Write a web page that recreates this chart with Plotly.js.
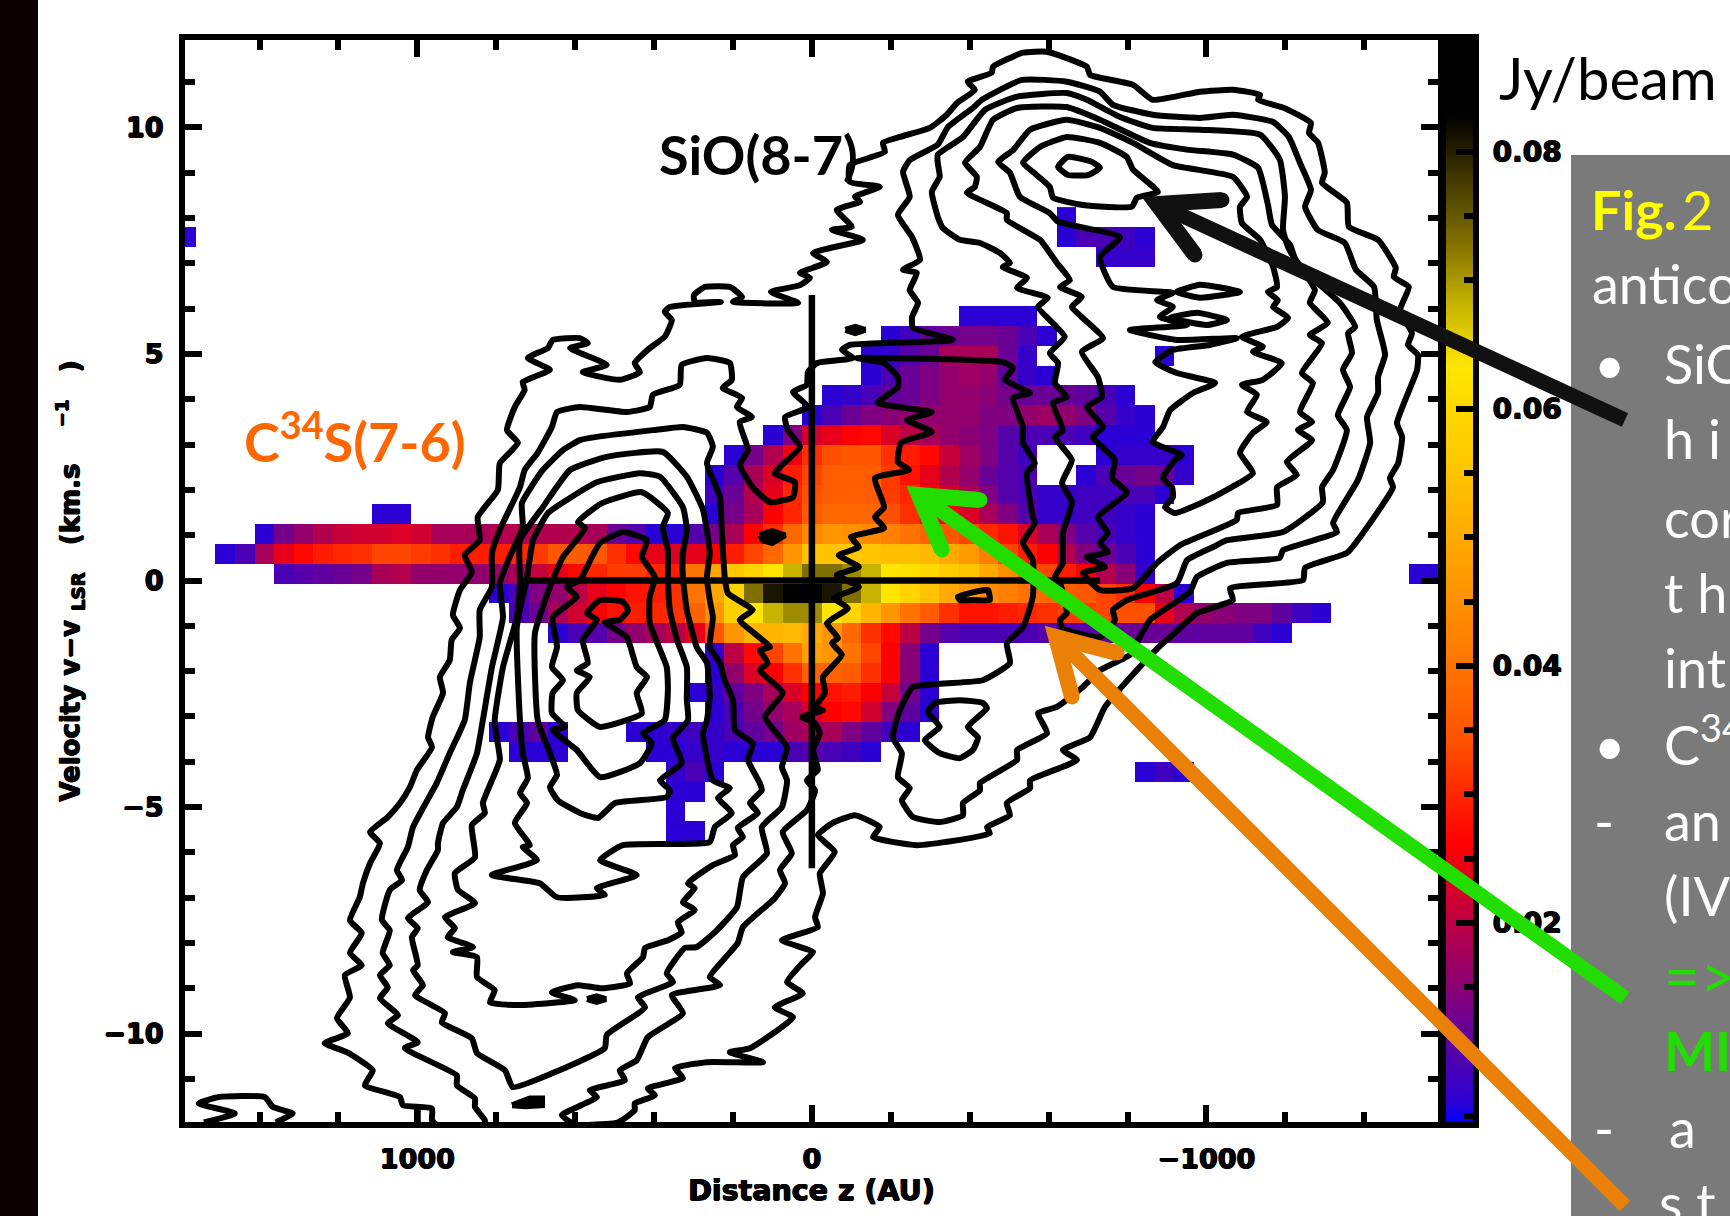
<!DOCTYPE html>
<html><head><meta charset="utf-8">
<script src="https://cdn.plot.ly/plotly-3.0.1.min.js"></script>
<style>html,body{margin:0;padding:0;background:#fff;overflow:hidden}#g{width:1730px;height:1216px}</style>
</head><body><div id="g"></div>
<script>
// ---- C34S(7-6) intensity (Jy/beam), channel rows by velocity, [first column, values] ----
const rowM13=[[23,[.006,.006]]];
const rowM12=[[23,[.006]]];
const rowM11=[[23,[.006,.006]]];
const rowM10=[[23,[.007,.009,.006]],[47,[.006,.008,.006]]];
const rowM9=[[15,[.006,.006,.006]],[22,[.006,.006,.007,.007,.006,.006,.006,.009,.010,.009,.008,.006]]];
const rowM8=[[14,[.006,.009,.011,.006]],[21,[.006,.006,.007,.008,.007,.009,.011,.013,.017,.018,.018,.014,.011,.008,.006]]];
const rowM7=[[25,[.006,.009,.013,.016,.018,.022,.026,.027,.022,.014,.011,.006]]];
const rowM6=[[24,[.006,.007,.011,.014,.018,.023,.026,.028,.029,.026,.021,.013,.006]]];
const rowM5=[[25,[.006,.016,.023,.026,.031,.037,.037,.036,.031,.026,.015,.006]]];
const rowM4=[[25,[.007,.020,.027,.033,.040,.048,.046,.040,.033,.026,.015,.006]]];
const rowM3=[[17,[.006,.009,.010,.013,.016,.018,.020,.024,.035,.046,.052,.052,.053,.050,.046,.038,.031,.027,.020,.013,.010,.009,.009,.009,.009,.010,.010,.010,.011,.012,.012,.012,.011,.011,.011,.011,.008,.006]]];
const rowM2=[[15,[.009,.012,.018,.022,.026,.028,.029,.030,.031,.037,.046,.058,.063,.068,.071,.071,.063,.059,.052,.046,.040,.036,.031,.028,.028,.029,.030,.031,.032,.032,.033,.034,.034,.024,.019,.016,.015,.014,.014,.011,.008,.006]]];
const rowM1=[[14,[.006,.009,.014,.016,.020,.024,.026,.028,.029,.031,.040,.049,.059,.073,.081,.086,.086,.081,.073,.068,.063,.059,.055,.050,.047,.044,.042,.040,.038,.036,.035,.033,.031,.026,.020,.006]]];
const rowP0=[[3,[.009,.010,.011,.012,.013,.018,.019,.016,.016,.016,.016,.017,.018,.021,.024,.027,.030,.032,.032,.030,.029,.040,.049,.056,.059,.063,.068,.073,.073,.071,.068,.063,.062,.060,.057,.055,.050,.045,.037,.033,.029,.026,.019,.015,.007]],[61,[.006,.006]]];
const rowP1=[[0,[.006,.009,.018,.024,.027,.029,.030,.031,.033,.033,.032,.031,.029,.029,.029,.030,.032,.035,.036,.035,.031,.027,.024,.023,.024,.026,.029,.033,.038,.046,.055,.055,.056,.055,.054,.054,.053,.050,.047,.042,.033,.029,.026,.019,.014,.012,.009,.006]]];
const rowP2=[[2,[.006,.013,.016,.019,.021,.022,.022,.023,.022,.018,.018,.018,.019,.019,.019,.019,.019,.018,.012,.010,.006,.006,.010,.013,.018,.026,.031,.038,.044,.046,.045,.044,.042,.040,.037,.035,.033,.030,.028,.023,.018,.014,.010,.009,.007,.006]]];
const rowP3=[[8,[.006,.006]],[25,[.006,.013,.018,.026,.030,.036,.038,.038,.038,.034,.031,.026,.026,.023,.018,.014,.010,.007,.007,.008,.008,.007,.006]]];
const rowP4=[[25,[.008,.012,.019,.024,.030,.034,.036,.036,.036,.032,.030,.026,.022,.018,.014,.010,.009,.007,.007,.008,.008,.009,.009,.006]]];
const rowP5=[[25,[.006,.010,.018,.023,.029,.033,.036,.036,.036,.032,.028,.024,.019,.016,.012,.010,.009]],[44,[.006,.009,.012,.013,.012,.007]]];
const rowP6=[[26,[.006,.013,.019,.025,.031,.034,.035,.035,.031,.029,.027,.021,.017,.014,.010,.008]],[45,[.006,.007,.007,.007,.006]]];
const rowP7=[[28,[.006,.014,.022,.024,.026,.027,.023,.020,.018,.016,.015,.014,.010,.009,.009,.009,.008,.006,.006,.006]]];
const rowP8=[[30,[.006,.009,.012,.014,.015,.016,.016,.016,.016,.014,.014,.016,.017,.016,.014,.010,.007,.006]]];
const rowP9=[[31,[.006,.007,.009,.011,.012,.014,.016,.016,.015,.013,.012,.012,.012,.011,.009,.006]]];
const rowP10=[[33,[.006,.009,.012,.014,.016,.017,.016,.011,.007,.006]]];
const rowP11=[[33,[.006,.007,.010,.012,.018,.018,.018,.012,.007]],[48,[.006]]];
const rowP12=[[34,[.006,.008,.011,.012,.013,.013,.012,.009,.006]]];
const rowP13=[[38,[.006,.006,.006,.006]]];
const rowP14=[];
const rowP15=[];
const rowP16=[[45,[.007,.007,.007]]];
const rowP17=[[-2,[.006]],[43,[.006,.009,.009,.008,.006]]];
const rowP18=[[43,[.006]]];

// ---- SiO(8-7) contours: [distance AU, velocity km/s] ----
const contourA=[[601,-12.02],[492,-11.96],[449,-11.69],[449,-11.54],[398,-11.36],[416,-11.21],[327,-10.98],[347,-10.76],[266,-10.63],[124,-10.63],[208,-10.41],[157,-10.32],[48,-9.64],[94,-9.42],[23,-9.11],[63,-8.86],[25,-8.45],[-3,-8.2],[76,-7.94],[-15,-7.65],[-8,-7.43],[-28,-6.9],[-20,-6.46],[-58,-5.99],[-15,-5.62],[-53,-5.35],[-109,-5.18],[-172,-5.44],[-155,-5.66],[-266,-5.84],[-451,-5.58],[-444,-5.44],[-502,-5.18],[-494,-4.91],[-553,-4.58],[-553,-4.41],[-672,-3.96],[-636,-3.74],[-705,-3.46],[-743,-2.79],[-831,-1.91],[-890,-1.38],[-908,-1.25],[-976,-.72],[-1067,-.43],[-1060,-.17],[-1245,.01],[-1250,.28],[-1356,.61],[-1397,1.05],[-1473,2.06],[-1465,2.26],[-1486,2.59],[-1496,3.17],[-1483,3.48],[-1534,4.65],[-1536,4.98],[-1511,5.2],[-1521,5.46],[-1491,5.97],[-1513,6.48],[-1475,6.7],[-1480,6.9],[-1435,7.52],[-1361,7.81],[-1356,8.34],[-1293,8.78],[-1300,9],[-1283,9.66],[-1260,9.88],[-1265,10.1],[-1197,10.43],[-1131,10.61],[-1136,10.72],[-1067,10.83],[-984,10.79],[-864,10.61],[-814,10.94],[-705,11.16],[-697,11.34],[-596,11.67],[-535,11.65],[-459,11.34],[-456,11.21],[-395,11.01],[-413,10.83],[-368,10.54],[-342,10.28],[-299,9.99],[-223,9.79],[-180,9.66],[-185,9.46],[-96,9.17],[-96,8.8],[-172,8.69],[-109,8.47],[-122,8.36],[-63,8.18],[-101,7.81],[-51,7.74],[-129,7.52],[-3,7.23],[-38,7.03],[30,6.79],[5,6.68],[30,6.52],[104,6.37],[35,6.13],[200,6.15],[177,6.26],[208,6.48],[271,6.48],[299,6.3],[297,6.15],[231,6.15],[360,6.04],[373,5.93],[355,5.75],[373,5.38],[411,5.13],[449,4.8],[436,4.6],[487,4.43],[581,4.6],[520,4.76],[613,5.13],[568,5.24],[588,5.35],[657,5.31],[669,5.13],[720,4.91],[664,4.65],[733,4.38],[728,4.21],[753,3.83],[773,3.32],[745,3.04],[791,2.59],[796,2],[847,1.4],[842,.89],[880,.56],[862,.19],[892,-.21],[910,-.76],[892,-1.05],[913,-1.31],[918,-1.76],[943,-2.13],[935,-2.48],[961,-3.01],[973,-3.46],[963,-3.68],[1001,-4.18],[1019,-4.56],[1044,-4.91],[1075,-5.22],[1120,-5.55],[1095,-5.8],[1120,-6.24],[1138,-6.68],[1146,-6.99],[1171,-7.5],[1141,-7.78],[1171,-8.22],[1141,-8.49],[1184,-8.71],[1171,-9.2],[1204,-9.66],[1176,-9.99],[1235,-10.21],[1179,-10.41],[1113,-10.81],[1133,-11.14],[1044,-11.4],[1037,-11.58],[963,-11.65],[963,-11.91],[951,-12.02]];
const contourB=[[829,-12.02],[829,-11.91],[854,-11.62],[854,-11.43],[900,-11.14],[900,-10.92],[1032,-10.32],[999,-10.19],[1075,-9.77],[1049,-9.59],[1095,-9.22],[1075,-8.98],[1095,-8.71],[1070,-8.49],[1088,-8.22],[1070,-7.72],[1090,-7.49],[1070,-6.83],[1039,-6.61],[1052,-6.39],[1024,-5.88],[1011,-5.44],[951,-4.47],[918,-3.81],[880,-3.08],[867,-2.26],[842,-1.25],[842,-.65],[811,-.14],[811,.61],[791,1.12],[740,2.06],[728,2.44],[695,2.82],[659,3.39],[646,3.72],[588,3.83],[469,3.72],[411,3.83],[403,4.1],[335,4.32],[330,4.76],[266,4.91],[208,4.8],[203,4.43],[226,4.25],[177,4.03],[190,3.83],[152,3.61],[183,3.5],[162,2.88],[183,2.55],[150,2.06],[106,1.73],[48,1.84],[43,2.17],[94,2.37],[30,2.95],[61,3.32],[68,3.61],[10,3.83],[48,4.16],[13,4.32],[10,4.6],[-13,4.8],[-104,4.91],[-76,5.09],[-96,5.2],[-357,5.31],[-256,5.58],[-254,5.82],[-269,6.13],[-248,6.41],[-266,6.79],[-231,6.86],[-274,7.08],[-254,7.58],[-218,8.07],[-248,8.47],[-231,9.02],[-248,9.28],[-319,9.62],[-345,10.01],[-408,10.43],[-431,10.61],[-532,11.05],[-646,11.01],[-730,10.79],[-763,10.5],[-864,10.28],[-984,10.21],[-1067,10.28],[-1169,10.12],[-1209,9.79],[-1237,9.22],[-1265,8.62],[-1250,8.25],[-1282,7.74],[-1351,7.45],[-1379,6.86],[-1425,6.48],[-1432,5.75],[-1447,5.24],[-1453,4.98],[-1435,4.49],[-1435,4.14],[-1407,3.61],[-1415,3.04],[-1384,2.22],[-1321,1.27],[-1331,1.07],[-1194,.67],[-1186,.5],[-1052,.39],[-976,.08],[-958,-.25],[-857,-.87],[-831,-1.25],[-806,-1.64],[-730,-1.98],[-687,-2.35],[-621,-2.79],[-573,-2.93],[-596,-3.37],[-520,-3.74],[-520,-3.96],[-426,-4.47],[-426,-4.63],[-383,-4.91],[-383,-5.18],[-324,-5.33],[-256,-5.22],[-228,-4.85],[-248,-4.58],[-218,-4.34],[-228,-3.81],[-205,-3.46],[-223,-2.86],[-256,-2.35],[-433,-2.2],[-502,-1.82],[-494,-1.38],[-535,-1.03],[-560,-.36],[-560,.45],[-535,.83],[-565,1.27],[-560,1.4],[-545,2.37],[-565,2.59],[-535,3.04],[-535,3.39],[-510,4.03],[-553,4.14],[-489,4.43],[-510,4.69],[-484,4.82],[-114,4.91],[-183,4.8],[-218,4.49],[-218,4.27],[-167,3.92],[-304,3.72],[-241,3.54],[-304,3.28],[-226,3.04],[-218,2.62],[-246,2.44],[-160,2.26],[-183,1.62],[-160,1.4],[-183,1.16],[-99,.96],[-119,.74],[-68,.56],[-119,.3],[-63,.12],[-119,-.14],[-56,-.39],[-91,-.61],[-38,-.94],[-66,-1.27],[-51,-1.38],[-76,-1.64],[-28,-2.13],[-33,-2.48],[-8,-2.79],[-28,-2.86],[25,-3.01],[-8,-3.15],[-20,-3.37],[-3,-3.74],[-15,-4.18],[13,-4.41],[-8,-4.63],[13,-5.07],[74,-5.55],[51,-6.02],[81,-6.39],[68,-6.68],[94,-7.01],[175,-7.65],[188,-8],[221,-8.34],[259,-8.75],[233,-8.93],[355,-9.15],[327,-9.55],[416,-10.08],[444,-10.59],[487,-10.81],[474,-11.03],[563,-11.25],[545,-11.4],[634,-11.8],[601,-12.02]];
const contourCLow=[[758,-11.18],[778,-10.81],[849,-10.43],[862,-10.1],[938,-9.75],[930,-9.55],[1006,-9.15],[986,-8.93],[1011,-8.6],[999,-8.49],[1014,-7.87],[999,-7.67],[1024,-7.45],[973,-7.1],[994,-6.83],[976,-6.39],[948,-5.95],[948,-5.8],[935,-5.35],[900,-5],[885,-4.63],[849,-3.81],[834,-3.08],[811,-1.91],[783,-.81],[791,-.06],[766,.52],[733,1.18],[735,1.71],[682,2.44],[631,2.88],[588,3.1],[545,3.17],[403,3.32],[327,3.39],[266,3.26],[251,2.95],[266,2.59],[233,1.84],[228,1.05],[221,.08],[213,-.28],[150,-.65],[183,-.87],[106,-1.47],[132,-1.53],[112,-1.82],[132,-1.98],[74,-2.48],[119,-3.01],[63,-3.68],[76,-4.12],[63,-4.41],[76,-5],[127,-5.44],[114,-6.02],[175,-6.55],[190,-7.21],[241,-7.72],[292,-8.09],[322,-8.11],[368,-8.67],[352,-8.86],[441,-9.2],[423,-9.42],[520,-10.03],[525,-10.32],[657,-10.87],[758,-11.18]];
const contourDLow=[[748,-9.37],[816,-9.31],[804,-9.04],[849,-8.75],[849,-8.31],[910,-8.2],[859,-8.09],[923,-7.87],[905,-7.67],[930,-7.43],[854,-7.12],[897,-6.83],[905,-6.46],[854,-6.11],[862,-5.4],[829,-5.13],[834,-4.91],[791,-3.96],[799,-3.46],[804,-3.08],[783,-1.91],[748,-.81],[740,-.06],[740,.89],[682,1.62],[613,2.44],[520,2.73],[378,2.84],[317,2.29],[276,1.56],[259,.61],[266,.08],[259,-.43],[251,-.81],[259,-1.47],[233,-1.82],[221,-2.2],[200,-2.64],[195,-3.3],[150,-3.59],[162,-3.96],[132,-4.47],[127,-4.63],[157,-4.91],[137,-5.13],[188,-5.46],[175,-5.66],[200,-5.84],[195,-6.06],[251,-6.28],[314,-6.68],[297,-6.79],[327,-7.1],[297,-7.27],[340,-7.54],[330,-7.76],[365,-7.94],[423,-8.11],[428,-8.31],[469,-8.67],[461,-8.89],[532,-9],[593,-8.93],[659,-9.09],[601,-9.26],[748,-9.37]];
const contourELow=[[740,-3.08],[733,-3.81],[720,-4.36],[740,-4.69],[722,-4.91],[753,-5.35],[715,-5.84],[733,-5.88],[697,-6.17],[811,-6.5],[690,-6.68],[646,-6.99],[525,-6.94],[545,-6.79],[444,-6.5],[537,-6.17],[479,-5.84],[259,-5.77],[246,-5.44],[203,-5.13],[238,-4.8],[208,-4.58],[251,-4.41],[276,-3.37],[266,-3.08],[259,-2.57],[266,-1.82],[292,-1.47],[317,-.65],[327,.08],[327,.61],[317,1.12],[327,1.62],[385,2.29],[436,2.37],[545,2.17],[621,1.78],[669,1.49],[707,.89],[722,.08],[748,-1.03],[740,-3.08]];
const contourFLow=[[695,-3.08],[664,-3.81],[646,-4.29],[664,-4.56],[644,-4.85],[588,-5.13],[542,-5.24],[499,-4.91],[368,-4.78],[360,-4.63],[385,-4.41],[330,-4.03],[352,-3.48],[314,-3.08],[317,-2.64],[317,-1.91],[342,-1.31],[360,-.65],[365,.08],[365,.67],[378,1.18],[365,1.49],[431,1.95],[532,1.71],[593,1.29],[575,1.16],[631,.52],[664,-.14],[702,-1.16],[695,-3.08]];
const contourGLow=[[479,1.07],[418,.89],[431,.52],[398,.08],[411,-.36],[411,-.94],[368,-1.91],[365,-2.42],[373,-3.08],[428,-3.37],[406,-3.59],[436,-4.03],[537,-4.34],[596,-3.74],[657,-3.3],[626,-3.23],[659,-2.93],[657,-2.48],[631,-2.2],[659,-1.91],[646,-1.47],[657,-.81],[596,-.36],[621,-.14],[588,.01],[570,.3],[537,.83],[479,1.07]];
const contourHLow=[[570,-.72],[537,-.43],[479,-.47],[466,-.65],[487,-.87],[525,-.92],[469,-1.25],[444,-1.91],[418,-2.13],[444,-2.48],[431,-2.93],[537,-3.23],[593,-2.86],[596,-2.48],[563,-2.13],[596,-1.98],[568,-1.82],[581,-1.31],[545,-.87],[570,-.72]];
const contourCUp=[[-319,9.4],[-383,9.79],[-439,10.39],[-520,10.68],[-646,10.76],[-697,10.61],[-781,10.23],[-864,9.99],[-984,9.95],[-1136,9.84],[-1186,9.29],[-1199,8.47],[-1194,7.74],[-1207,7.36],[-1237,6.92],[-1338,6.13],[-1377,5.6],[-1359,5.46],[-1369,5.02],[-1346,4.65],[-1364,4.27],[-1333,3.65],[-1356,3.32],[-1321,2.44],[-1293,2.06],[-1295,1.73],[-1194,1.07],[-1052,.89],[-1017,.74],[-951,.45],[-925,-.06],[-799,-.43],[-763,-.65],[-768,-.87],[-730,-1.25],[-634,-1.05],[-629,-.87],[-646,-.72],[-629,-.06],[-616,.08],[-636,.39],[-636,1.05],[-659,1.73],[-634,2.15],[-659,2.66],[-616,3.17],[-636,3.32],[-611,3.92],[-646,4.05],[-616,4.36],[-624,4.8],[-603,5.02],[-641,5.38],[-573,6.04],[-598,6.24],[-520,6.46],[-545,6.68],[-484,6.92],[-502,7.01],[-477,7.23],[-426,7.45],[-375,7.52],[-332,7.78],[-319,8.03],[-304,8.58],[-324,8.91],[-319,9.22],[-319,9.4]];
const contourDUp=[[-388,9.22],[-426,9.57],[-459,10.17],[-520,10.43],[-646,10.45],[-730,10.17],[-857,9.66],[-951,9.51],[-1067,9.4],[-1131,9.11],[-1156,8.29],[-1166,7.85],[-1212,7.41],[-1224,7.12],[-1275,6.41],[-1262,6.13],[-1308,5.69],[-1262,5.42],[-1293,5.24],[-1242,4.58],[-1270,4.36],[-1237,3.72],[-1268,3.5],[-1232,3.32],[-1268,3.1],[-1204,2.62],[-1229,2.33],[-1179,2.06],[-1179,1.67],[-1080,1.49],[-1077,1.34],[-933,.78],[-875,.39],[-814,-.17],[-730,-.21],[-687,.17],[-743,.3],[-697,.52],[-750,.63],[-730,.83],[-750,1.05],[-725,1.4],[-799,1.95],[-761,2.26],[-768,2.66],[-712,3.17],[-738,3.39],[-697,3.83],[-735,4.05],[-725,4.49],[-684,5.05],[-738,5.35],[-700,5.69],[-659,6.04],[-684,6.26],[-629,6.48],[-654,6.63],[-621,7.01],[-578,7.52],[-494,7.96],[-494,8.11],[-393,8.56],[-413,8.69],[-418,8.91],[-388,9.22]];
const contourEUp=[[-472,9.24],[-510,9.5],[-553,9.95],[-646,10.17],[-730,9.99],[-814,9.66],[-915,9.17],[-1067,8.91],[-1103,8.47],[-1085,8.25],[-1090,7.89],[-1136,7.52],[-1169,6.92],[-1179,6.48],[-1156,6.37],[-1181,6.19],[-1169,6.04],[-1207,5.8],[-1179,5.6],[-1090,5.38],[-1143,5.16],[-1118,5.05],[-1191,4.8],[-1143,4.43],[-1090,4.32],[-1128,4.1],[-1103,3.72],[-1153,3.5],[-1118,3.26],[-1085,2.82],[-1118,2.37],[-1060,2.04],[-991,1.73],[-920,1.49],[-895,1.62],[-915,1.84],[-913,2.06],[-890,2.26],[-920,2.66],[-938,2.77],[-864,3.06],[-890,3.39],[-908,3.76],[-966,4.14],[-1022,4.36],[-925,4.58],[-870,4.82],[-915,5.09],[-1009,5.2],[-1077,5.35],[-925,5.31],[-806,5.53],[-951,5.64],[-882,5.82],[-915,6.04],[-875,6.19],[-915,6.35],[-763,6.48],[-730,7.14],[-781,7.58],[-624,7.92],[-603,8.11],[-527,8.47],[-502,9],[-472,9.24]];
const contourFUp=[[-535,9.22],[-578,9.57],[-646,9.79],[-730,9.66],[-798,9.35],[-814,9.07],[-877,8.58],[-824,8.45],[-811,8.25],[-687,8.29],[-611,8.45],[-603,8.69],[-560,9.02],[-535,9.22]];
const contourGUp=[[-649,9.35],[-710,9.24],[-730,9.11],[-700,8.95],[-649,8.95],[-624,9.13],[-649,9.35]];
const islandOne=[[-925,6.37],[-984,6.53],[-1085,6.37],[-984,6.24],[-925,6.37]];
const islandTwo=[[-908,5.8],[-976,5.91],[-1052,5.75],[-1001,5.64],[-908,5.8]];
const islandThree=[[-312,-2.7],[-375,-2.64],[-433,-2.7],[-444,-2.82],[-395,-3.23],[-421,-3.46],[-408,-3.74],[-375,-3.92],[-324,-3.81],[-286,-3.52],[-324,-3.23],[-294,-2.9],[-312,-2.7]];
const islandFour=[[-370,-.36],[-413,-.25],[-446,-.21],[-451,-.43],[-413,-.43],[-375,-.43],[-370,-.36]];
const islandNine=[[1541,-11.96],[1463,-11.76],[1554,-11.54],[1503,-11.4],[1387,-11.4],[1366,-11.62],[1316,-11.76],[1359,-11.96]];
const islandTen=[[999,-11.65],[999,-12]];
const blobOne=[[132,1],[101,1.09],[68,1],[101,.83],[122,.88],[132,1]];
const blobTwo=[[-85,5.53],[-110,5.6],[-135,5.53],[-110,5.46],[-85,5.53]];
const blobThree=[[570,-9.24],[546,-9.3],[522,-9.24],[546,-9.18],[570,-9.24]];
const blobFour=[[760,-11.58],[715,-11.43],[684,-11.43],[684,-11.58],[727,-11.6],[760,-11.58]];
const crossDistance=[738,-730];
const crossVelocity=[-6.35,6.3];

// ---- colour table and bar ----
const colorValues=[.0045,.006,.013,.022,.0262,.031,.034,.042,.05,.056,.0633,.068,.073,.081,.083,.0887];
const colorNames=['#0000ff','#2a00d5','#75008a','#d00030','#ff0000','#ff3000','#ff5000','#ff8000','#ffaa00','#ffc800','#ffe600','#c8b400','#807000','#1a1500','#000000','#000000'];
const barLevels=[.002,.008,.014,.02,.026,.032,.038,.044,.05,.056,.062,.068,.074,.08,.086,.092];
const cMin=.0045, cMax=.0887;

const xCell0=1586.3, xCell=-49.61, yCell0=-5.524, yCell=.437, firstColumn=-2, columnCount=65;
const rows=[rowM13,rowM12,rowM11,rowM10,rowM9,rowM8,rowM7,rowM6,rowM5,rowM4,rowM3,rowM2,rowM1,rowP0,rowP1,rowP2,rowP3,rowP4,rowP5,rowP6,rowP7,rowP8,rowP9,rowP10,rowP11,rowP12,rowP13,rowP14,rowP15,rowP16,rowP17,rowP18];
const heat=rows.map(spans=>{
  const r=new Array(columnCount).fill(null);
  spans.forEach(([k,vals])=>vals.forEach((v,i)=>{r[k-firstColumn+i]=v;}));
  return r;
});
const contours=[contourA,contourB,contourCLow,contourDLow,contourELow,contourFLow,contourGLow,contourHLow,contourCUp,contourDUp,contourEUp,contourFUp,contourGUp,islandOne,islandTwo,islandThree,islandFour,islandNine,islandTen];
const blobs=[blobOne,blobTwo,blobThree,blobFour];

const W=1730,H=1216;
const px=x=>x/W, py=y=>1-y/H;
const traces=[{type:'heatmap',z:heat,x0:xCell0,dx:xCell,y0:yCell0,dy:yCell,coloraxis:'coloraxis',hoverinfo:'skip',xaxis:'x',yaxis:'y',zsmooth:false}];
contours.forEach(c=>traces.push({type:'scatter',mode:'lines',x:c.map(p=>p[0]),y:c.map(p=>p[1]),xaxis:'x',yaxis:'y',hoverinfo:'skip',line:{color:'#000',width:6,simplify:false,shape:'spline',smoothing:.45}}));
blobs.forEach(c=>traces.push({type:'scatter',mode:'lines',x:c.map(p=>p[0]),y:c.map(p=>p[1]),xaxis:'x',yaxis:'y',hoverinfo:'skip',fill:'toself',fillcolor:'#000',line:{color:'#000',width:6,simplify:false}}));
traces.push({type:'scatter',mode:'lines',x:crossDistance,y:[0,0],xaxis:'x',yaxis:'y',hoverinfo:'skip',line:{color:'#000',width:6.5}});
traces.push({type:'scatter',mode:'lines',x:[0,0],y:crossVelocity,xaxis:'x',yaxis:'y',hoverinfo:'skip',line:{color:'#000',width:6.5}});
traces.push({type:'heatmap',z:barLevels.map(v=>[v,v]),x:[0,1],y:barLevels,coloraxis:'coloraxis',xaxis:'x2',yaxis:'y2',zsmooth:'best',hoverinfo:'skip'});

const fat='0.7px 0 0 #000,-0.7px 0 0 #000,0 0.7px 0 #000,0 -0.7px 0 #000';
const idlFont={family:'"DejaVu Sans", sans-serif',size:27,color:'#000',weight:'bold',shadow:fat};
const axisLine={showline:true,linecolor:'#000',linewidth:6,showgrid:false,zeroline:false};
const yDomain=[py(1122),py(40)];
const nb='\u00a0';

function note(text,x,base,size,color,weight,family){
  return {text,x:px(x),y:py(base+size*.265),xref:'paper',yref:'paper',xanchor:'left',yanchor:'bottom',showarrow:false,align:'left',borderpad:0,
    font:{family:(family||'Lato')+', sans-serif',size,color,weight:weight||'normal'}};
}
function arrow(color,tail,tip,b1,b2,w){
  const r=w/2, P=p=>px(p[0])+' '+py(p[1]);
  const common={xref:'paper',yref:'paper',layer:'above'};
  const out=[
    Object.assign({type:'path',path:'M '+P(tail)+' L '+P(tip),line:{color,width:w}},common),
    Object.assign({type:'path',path:'M '+P(b1)+' L '+P(tip)+' L '+P(b2),line:{color,width:w+1}},common)];
  [b1,b2].forEach(b=>out.push(Object.assign({type:'circle',x0:px(b[0]-r),x1:px(b[0]+r),y0:py(b[1]+r),y1:py(b[1]-r),fillcolor:color,line:{width:0}},common)));
  return out;
}
const layout={
  width:W,height:H,margin:{l:0,r:0,t:0,b:0},paper_bgcolor:'#fff',plot_bgcolor:'rgba(0,0,0,0)',showlegend:false,
  coloraxis:{cmin:cMin,cmax:cMax,showscale:false,colorscale:colorValues.map((v,i)=>[(v-cMin)/(cMax-cMin),colorNames[i]])},
  xaxis:Object.assign({},axisLine,{domain:[px(185),px(1438)],range:[1589,-1587],anchor:'y',tick0:0,dtick:1000,ticks:'inside',ticklen:17,tickwidth:6,tickcolor:'#000',mirror:'ticks',
    minor:{tick0:0,dtick:200,ticks:'inside',ticklen:10,tickwidth:6,tickcolor:'#000'},tickfont:idlFont,ticklabelstandoff:8,
    title:{text:'Distance z (AU)',font:{family:idlFont.family,size:28.5,color:'#000',weight:'bold',shadow:fat},standoff:8}}),
  yaxis:Object.assign({},axisLine,{domain:yDomain,range:[-11.95,11.93],anchor:'x',tick0:0,dtick:5,ticks:'inside',ticklen:17,tickwidth:6,tickcolor:'#000',mirror:'ticks',
    minor:{tick0:0,dtick:1,ticks:'inside',ticklen:10,tickwidth:6,tickcolor:'#000'},tickfont:idlFont,ticklabelstandoff:10,
    title:{text:'Velocity v−v'+nb+'<sub>LSR</sub>'+nb+nb+nb+'(km.s'+nb+nb+nb+nb+'<sup>−1</sup>'+nb+nb+nb+')',font:{family:idlFont.family,size:26,color:'#000',weight:'bold',shadow:fat},standoff:18}}),
  xaxis2:Object.assign({},axisLine,{domain:[px(1446),px(1473)],range:[0,1],anchor:'y2',mirror:true,showticklabels:false,ticks:''}),
  yaxis2:Object.assign({},axisLine,{domain:yDomain,range:[cMin,cMax],anchor:'x2',side:'right',mirror:true,tick0:0,dtick:.02,tickformat:'.2f',ticks:'inside',ticklen:17,tickwidth:6,tickcolor:'#000',
    minor:{tick0:0,dtick:.005,ticks:'inside',ticklen:9,tickwidth:6,tickcolor:'#000'},tickfont:Object.assign({},idlFont,{size:28}),ticklabelstandoff:8}),
  shapes:[
    {type:'rect',xref:'paper',yref:'paper',x0:0,x1:px(38),y0:0,y1:1,fillcolor:'#0d0002',line:{width:0},layer:'below'},
    {type:'rect',xref:'paper',yref:'paper',x0:px(1571),x1:1,y0:0,y1:py(155),fillcolor:'#7a7a7a',line:{width:0},layer:'below'}
  ].concat(
    arrow('#111111',[1625,420],[1157,204],[1222,200],[1195,255],15),
    arrow('#22dd00',[1625,998],[919,495],[980,500],[942,550],15),
    arrow('#ea8006',[1625,1206],[1056,637],[1117,653],[1072,697],15)
  ),
  annotations:[
    note('Jy/beam',1498,98,58,'#000'),
    note('SiO(8-7)',658,174,54,'#000','bold'),
    note('C<sup>34</sup>S(7-6)',243,461,54,'#ff6600','bold'),
    note('Fig.',1590,229,54,'#ffff00','bold'),
    note('2',1681,229,54,'#ffff00'),
    note('antico',1591,303,54,'#fff'),
    note('•',1593,383,54,'#fff'),
    note('SiO',1663,383,54,'#fff'),
    note('h i',1663,458,54,'#fff'),
    note('cor',1663,537,54,'#fff'),
    note('t h e',1663,612,54,'#fff'),
    note('int',1663,687,54,'#fff'),
    note('•',1593,764,54,'#fff'),
    note('C<sup>34</sup>',1663,764,54,'#fff'),
    note('-',1593,840,54,'#fff'),
    note('an',1663,840,54,'#fff'),
    note('(IV',1663,915,54,'#fff'),
    note('=>',1663,997,62,'#22dd00'),
    note('MI',1663,1070,54,'#22dd00','bold'),
    note('-',1593,1147,54,'#fff'),
    note('a',1668,1147,54,'#fff'),
    note('s t r',1658,1222,54,'#fff')
  ]
};
Plotly.newPlot('g',traces,layout,{displayModeBar:false,responsive:false});
</script></body></html>
